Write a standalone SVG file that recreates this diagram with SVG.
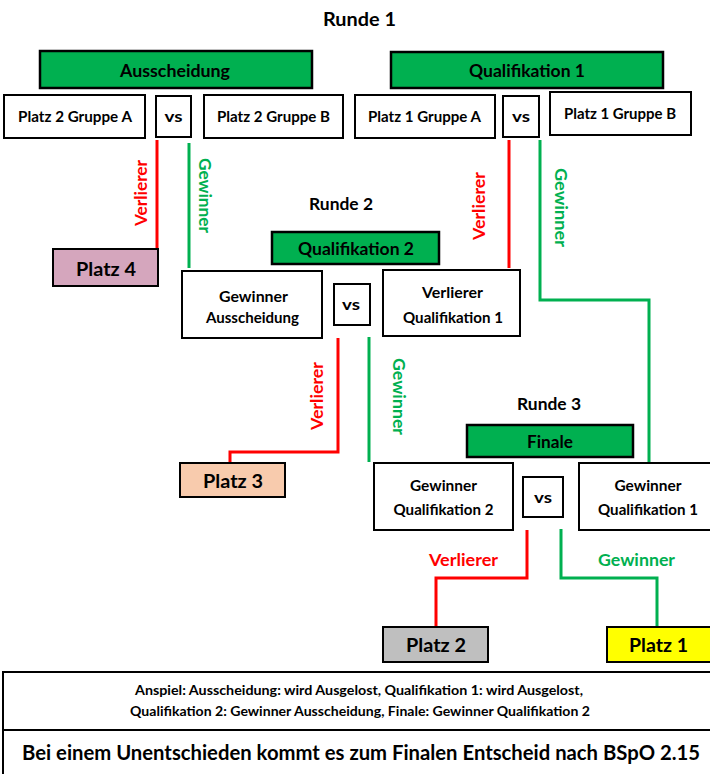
<svg xmlns="http://www.w3.org/2000/svg" width="710" height="774" viewBox="0 0 710 774">
<style>
text{font-family:Lato,"Open Sans","Liberation Sans",sans-serif;font-weight:bold;fill:#000;text-anchor:middle}
.b{fill:#fff;stroke:#000;stroke-width:2}
.g{fill:#00B050;stroke:#000;stroke-width:2.5}
.t{font-size:15px}
.h{font-size:16.5px}
.r{font-size:17.5px}
.p{font-size:18px}
.red{stroke:#FF0000;stroke-width:3;fill:none}
.grn{stroke:#00B050;stroke-width:3;fill:none}
.lr{fill:#FF0000;font-size:17px}
.lg{fill:#00B050;font-size:17px}
</style>
<rect width="710" height="774" fill="#fff"/>
<g id="connectors">
<path class="red" d="M157,140 V249"/>
<path class="grn" d="M189,143 V268"/>
<path class="red" d="M509,140 V268"/>
<path class="grn" d="M540,140 V300 H649 V462"/>
<path class="red" d="M338,338 V452 H230 V463"/>
<path class="grn" d="M369,337 V462"/>
<path class="red" d="M527,530 V578 H436 V627"/>
<path class="grn" d="M561,529 V578 H657 V627"/>
<text class="lr" transform="translate(147,193) rotate(-90)" textLength="66" lengthAdjust="spacingAndGlyphs">Verlierer</text>
<text class="lg" transform="translate(199,195.5) rotate(90)" textLength="75" lengthAdjust="spacingAndGlyphs">Gewinner</text>
<text class="lr" transform="translate(485,206) rotate(-90)" textLength="68" lengthAdjust="spacingAndGlyphs">Verlierer</text>
<text class="lg" transform="translate(555,207.5) rotate(90)" textLength="79" lengthAdjust="spacingAndGlyphs">Gewinner</text>
<text class="lr" transform="translate(323,396) rotate(-90)" textLength="68" lengthAdjust="spacingAndGlyphs">Verlierer</text>
<text class="lg" transform="translate(393,396.5) rotate(90)" textLength="77" lengthAdjust="spacingAndGlyphs">Gewinner</text>
<text class="lr" x="463.5" y="566" textLength="69" lengthAdjust="spacingAndGlyphs">Verlierer</text>
<text class="lg" x="636.5" y="566" textLength="77" lengthAdjust="spacingAndGlyphs">Gewinner</text>
</g>
<g id="runde1"><text class="r" x="359.5" y="26" style="font-size:19px" textLength="73" lengthAdjust="spacingAndGlyphs">Runde 1</text></g>
<g id="ausscheidung"><rect class="g" x="40" y="51" width="272" height="37"/><text class="h" x="175" y="77" textLength="110" lengthAdjust="spacingAndGlyphs">Ausscheidung</text></g>
<g id="p2a"><rect class="b" x="4" y="95" width="141" height="43"/><text class="t" x="75" y="122" textLength="114" lengthAdjust="spacingAndGlyphs">Platz 2 Gruppe A</text></g>
<g id="vs1"><rect class="b" x="156" y="96" width="35" height="41"/><text class="t" x="173.5" y="122" textLength="18" lengthAdjust="spacingAndGlyphs">vs</text></g>
<g id="p2b"><rect class="b" x="204" y="95" width="139" height="43"/><text class="t" x="273.5" y="122" textLength="113" lengthAdjust="spacingAndGlyphs">Platz 2 Gruppe B</text></g>
<g id="quali1"><rect class="g" x="391" y="52" width="272" height="36"/><text class="h" x="527" y="77" textLength="116" lengthAdjust="spacingAndGlyphs">Qualifikation 1</text></g>
<g id="p1a"><rect class="b" x="355" y="95" width="140" height="43"/><text class="t" x="424.5" y="122" textLength="113" lengthAdjust="spacingAndGlyphs">Platz 1 Gruppe A</text></g>
<g id="vs2"><rect class="b" x="503" y="96" width="36" height="41"/><text class="t" x="521" y="122" textLength="18" lengthAdjust="spacingAndGlyphs">vs</text></g>
<g id="p1b"><rect class="b" x="550" y="92" width="141" height="43"/><text class="t" x="620" y="119" textLength="112" lengthAdjust="spacingAndGlyphs">Platz 1 Gruppe B</text></g>
<g id="platz4"><rect x="53" y="249" width="105" height="37" fill="#D5A6BD" stroke="#000" stroke-width="2"/><text class="p" x="106" y="276" textLength="60" lengthAdjust="spacingAndGlyphs">Platz 4</text></g>
<g id="runde2"><text class="r" x="341" y="210" textLength="64" lengthAdjust="spacingAndGlyphs">Runde 2</text></g>
<g id="quali2"><rect class="g" x="272" y="232" width="167" height="32"/><text class="h" x="356" y="255" textLength="116" lengthAdjust="spacingAndGlyphs">Qualifikation 2</text></g>
<g id="gew-aus"><rect class="b" x="182" y="271" width="140" height="67"/><text class="t" x="253.5" y="302" textLength="69" lengthAdjust="spacingAndGlyphs">Gewinner</text><text class="t" x="252.5" y="323" textLength="93" lengthAdjust="spacingAndGlyphs">Ausscheidung</text></g>
<g id="vs3"><rect class="b" x="334" y="284" width="36" height="41"/><text class="t" x="351" y="310" textLength="18" lengthAdjust="spacingAndGlyphs">vs</text></g>
<g id="ver-q1"><rect class="b" x="383" y="270" width="137" height="66"/><text class="t" x="452.5" y="298" textLength="61" lengthAdjust="spacingAndGlyphs">Verlierer</text><text class="t" x="453" y="323" textLength="100" lengthAdjust="spacingAndGlyphs">Qualifikation 1</text></g>
<g id="platz3"><rect x="180" y="463" width="105" height="34" fill="#F8CBAD" stroke="#000" stroke-width="2"/><text class="p" x="233" y="488" textLength="60" lengthAdjust="spacingAndGlyphs">Platz 3</text></g>
<g id="runde3"><text class="r" x="549" y="410" textLength="64" lengthAdjust="spacingAndGlyphs">Runde 3</text></g>
<g id="finale"><rect class="g" x="467" y="425" width="166" height="32"/><text class="h" x="550" y="448" textLength="46" lengthAdjust="spacingAndGlyphs">Finale</text></g>
<g id="gew-q2"><rect class="b" x="374" y="463" width="139" height="67"/><text class="t" x="443.5" y="491" textLength="67" lengthAdjust="spacingAndGlyphs">Gewinner</text><text class="t" x="443.5" y="515" textLength="100" lengthAdjust="spacingAndGlyphs">Qualifikation 2</text></g>
<g id="vs4"><rect class="b" x="523" y="477" width="40" height="40"/><text class="t" x="543" y="503" textLength="18" lengthAdjust="spacingAndGlyphs">vs</text></g>
<g id="gew-q1"><rect class="b" x="579" y="463" width="140" height="67"/><text class="t" x="648" y="491" textLength="67" lengthAdjust="spacingAndGlyphs">Gewinner</text><text class="t" x="648" y="515" textLength="100" lengthAdjust="spacingAndGlyphs">Qualifikation 1</text></g>
<g id="platz2"><rect x="383" y="627" width="105" height="35" fill="#BFBFBF" stroke="#000" stroke-width="2"/><text class="p" x="436" y="652" textLength="60" lengthAdjust="spacingAndGlyphs">Platz 2</text></g>
<g id="platz1"><rect x="607" y="627" width="110" height="35" fill="#FFFF00" stroke="#000" stroke-width="2"/><text class="p" x="658.5" y="652" textLength="59" lengthAdjust="spacingAndGlyphs">Platz 1</text></g>
<g id="info">
<rect x="3" y="672" width="720" height="58" fill="#fff" stroke="#000" stroke-width="2"/>
<text x="359" y="695" style="font-size:13.5px" textLength="448" lengthAdjust="spacingAndGlyphs">Anspiel: Ausscheidung: wird Ausgelost, Qualifikation 1: wird Ausgelost,</text>
<text x="360" y="716" style="font-size:13.5px" textLength="460" lengthAdjust="spacingAndGlyphs">Qualifikation 2: Gewinner Ausscheidung, Finale: Gewinner Qualifikation 2</text>
</g>
<g id="note">
<rect x="3" y="730" width="720" height="60" fill="#fff" stroke="#000" stroke-width="2"/>
<text x="361" y="760" style="font-size:20.5px" textLength="678" lengthAdjust="spacingAndGlyphs">Bei einem Unentschieden kommt es zum Finalen Entscheid nach BSpO 2.15</text>
</g>
</svg>
